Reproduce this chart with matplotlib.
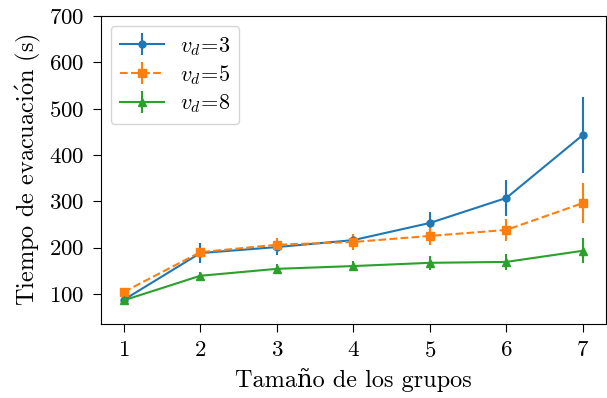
import matplotlib
matplotlib.use("Agg")
import matplotlib.pyplot as plt
from matplotlib.ticker import MultipleLocator

# group size on x, evacuation time (s) per desired speed v_d
group_size = [1, 2, 3, 4, 5, 6, 7]

t_vd3 = [87, 188, 201, 216, 253, 307, 443]
err_vd3 = [3, 21, 17, 13, 23, 38, 82]

t_vd5 = [104, 190, 206, 212, 225, 238, 296]
err_vd5 = [5, 10, 15, 18, 20, 23, 43]

t_vd8 = [86, 139, 154, 160, 167, 169, 193]
err_vd8 = [5, 8, 10, 10, 15, 18, 27]

plt.rcParams["font.family"] = ["cmr10", "DejaVu Serif"]
plt.rcParams["mathtext.fontset"] = "cm"
plt.rcParams["axes.formatter.use_mathtext"] = True
plt.rcParams["font.size"] = 16

fig, ax = plt.subplots(figsize=(6.07, 3.98), dpi=100)

ax.errorbar(group_size, t_vd3, yerr=err_vd3, marker="o", markersize=5,
            linestyle="-", label=r"$v_d\!=\!3$")
ax.errorbar(group_size, t_vd5, yerr=err_vd5, marker="s", markersize=5.5,
            linestyle="--", label=r"$v_d\!=\!5$")
ax.errorbar(group_size, t_vd8, yerr=err_vd8, marker="^", markersize=6,
            linestyle="-", label=r"$v_d\!=\!8$")

ax.set_ylim(35, 700)
ax.yaxis.set_major_locator(MultipleLocator(100))
ax.tick_params(labelsize=16.5, length=6, pad=6)
ax.set_xlabel("Tamaño de los grupos", fontsize=17.5, labelpad=5)
ax.set_ylabel(r"Tiempo de evacuaci$\acute{\mathrm{o}}$n (s)", fontsize=17.5,
              labelpad=4)
ax.legend(loc="upper left", fontsize=16, labelspacing=0.25,
          handletextpad=0.7, borderaxespad=0.45)

fig.subplots_adjust(left=0.166, right=0.998, top=0.96, bottom=0.186)
fig.savefig("out.png", dpi=100)
